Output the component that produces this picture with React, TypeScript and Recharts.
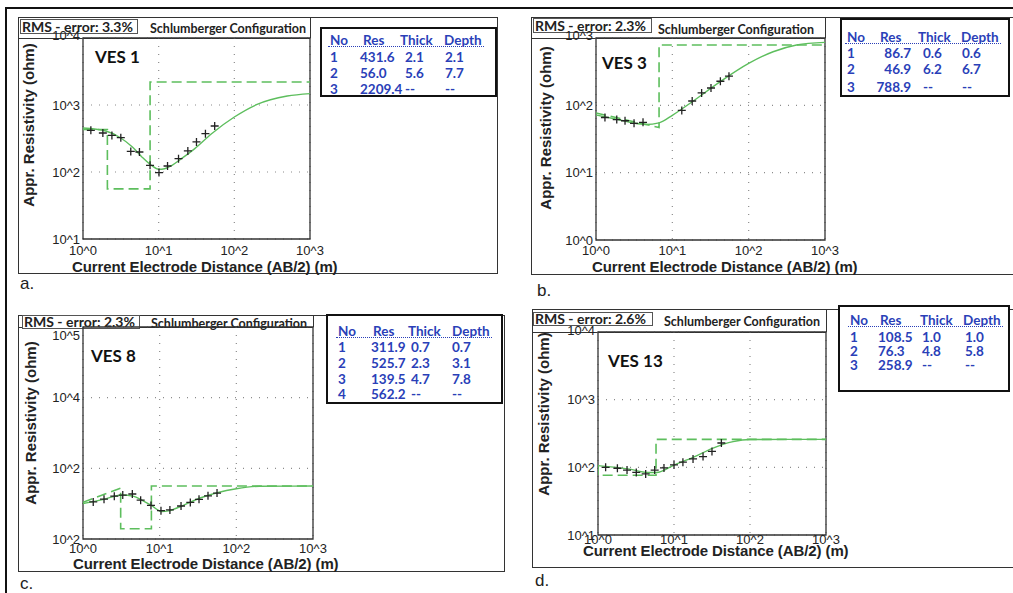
import React from "react";
import { CartesianGrid, ComposedChart, Line, ReferenceArea, Scatter, XAxis, YAxis } from "recharts";

const xTicks = [1, 10, 100, 1000];
const xTickLabels = ["10^0", "10^1", "10^2", "10^3"];

// VES 1
const ves1Res = [431.6, 56.0, 2209.4];
const ves1Thick = [2.1, 5.6];
const ves1Depth = [2.1, 7.7];
const ves1ObsX = [1.27, 1.83, 2.41, 3.16, 4.28, 5.57, 7.69, 10.1, 13.1, 18.3, 24.3, 31.6, 41.5, 55];
const ves1ObsY = [419, 382, 352, 325, 203, 199, 126, 98, 123, 158, 206, 281, 373, 486];
const ves1FitX = [1, 2, 3, 4.5, 6, 8, 10, 12, 15, 20, 30, 50, 100, 200, 500, 1000];
const ves1FitY = [454, 409, 333, 236, 168, 126, 110, 112, 126, 158, 223, 373, 662, 1020, 1360, 1480];
const ves1StepX = [1, 2.1, 2.1, 7.7, 7.7, 1000];
const ves1StepY = [431.6, 431.6, 56.0, 56.0, 2209.4, 2209.4];

// VES 3
const ves3Res = [86.7, 46.9, 788.9];
const ves3Thick = [0.6, 6.2];
const ves3Depth = [0.6, 6.7];
const ves3ObsX = [1.31, 1.87, 2.4, 3.15, 4.13, 13.3, 18.2, 24.2, 32.1, 42.6, 55.2];
const ves3ObsY = [66, 61.5, 59, 54, 56, 84, 116, 153, 181, 228, 271];
const ves3FitX = [1, 2, 3, 4.5, 6.7, 10, 18, 42, 100, 209, 424, 1000];
const ves3FitY = [72, 61, 55, 52, 55, 71, 112, 223, 419, 625, 787, 861];
const ves3StepX = [1, 6.7, 6.7, 1000];
const ves3StepY = [77, 46.9, 788.9, 788.9];

// VES 8
const ves8Res = [311.9, 525.7, 139.5, 562.2];
const ves8Thick = [0.7, 2.3, 4.7];
const ves8Depth = [0.7, 3.1, 7.8];
const ves8ObsX = [1.36, 1.88, 2.56, 3.3, 4.4, 5.65, 7.7, 10.4, 13.6, 19, 25.1, 32.6, 42.7, 56];
const ves8ObsY = [335, 366, 404, 419, 433, 354, 299, 252, 258, 293, 329, 364, 408, 446];
const ves8FitX = [1, 1.8, 3.2, 4.5, 6, 7.8, 10.6, 13, 18.4, 33, 100, 200, 1000];
const ves8FitY = [318, 360, 419, 405, 350, 299, 245, 250, 286, 377, 515, 557, 562];
const ves8StepX = [1, 3.1, 3.1, 7.8, 7.8, 1000];
const ves8StepY = [330, 525.7, 139.5, 139.5, 562.2, 562.2];

// VES 13
const ves13Res = [108.5, 76.3, 258.9];
const ves13Thick = [1.0, 4.8];
const ves13Depth = [1.0, 5.8];
const ves13ObsX = [1.26, 1.8, 2.41, 3.19, 4.24, 5.57, 7.38, 10, 13.1, 17.8, 24.1, 31.6, 42];
const ves13ObsY = [100, 97, 91, 84, 80, 91, 98, 109, 119, 133, 144, 172, 229];
const ves13FitX = [1, 2.6, 4.5, 5.9, 10, 17.8, 32, 60, 100, 1000];
const ves13FitY = [106, 94, 84, 84, 108, 140, 191, 240, 258, 259];
const ves13StepX = [1, 1, 5.8, 5.8, 1000];
const ves13StepY = [108.5, 76.3, 76.3, 258.9, 258.9];

const green = "#5dbe5d";
const blue = "#2a3fb8";
const dark = "#333";
const arial = "'Liberation Sans', Arial, sans-serif";
const calibri = "Lato, 'Open Sans', sans-serif";

type Panel = {
  name: string;
  rms: string;
  letter: string;
  plot: number[]; // L T R B
  frame: number[];
  yDomain: number[];
  yTicks: number[];
  yLabels: string[];
  topShift: number; // nudge of the top y label, as in the picture
  xTickGap: number;
  obsX: number[];
  obsY: number[];
  fitX: number[];
  fitY: number[];
  stepX: number[];
  stepY: number[];
  res: number[];
  thick: number[];
  depth: number[];
  rmsBox: number[];
  schCenter: number[];
  vesPos: number[];
  xTitle: number[];
  yTitle: number[];
  letterPos: number[];
  table: { box: number[]; headX: number[]; cellX: number[]; headY: number; rowY: number[]; resRight?: number };
};

const panels: Panel[] = [
  {
    name: "VES 1", rms: "RMS - error: 3.3%", letter: "a.",
    plot: [83, 38, 310, 239], frame: [18, 17, 498, 274],
    yDomain: [10, 10000], yTicks: [10, 100, 1000, 10000], yLabels: ["10^1", "10^2", "10^3", "10^4"], topShift: -3, xTickGap: 7,
    obsX: ves1ObsX, obsY: ves1ObsY, fitX: ves1FitX, fitY: ves1FitY, stepX: ves1StepX, stepY: ves1StepY,
    res: ves1Res, thick: ves1Thick, depth: ves1Depth,
    rmsBox: [20, 19, 138, 34], schCenter: [228, 28], vesPos: [95, 56], xTitle: [72, 266], yTitle: [28, 125], letterPos: [20, 284],
    table: { box: [320, 27, 497, 97], headX: [330, 363, 400, 444], cellX: [330, 360, 405, 445], headY: 40, rowY: [57, 73, 89] },
  },
  {
    name: "VES 3", rms: "RMS - error: 2.3%", letter: "b.",
    plot: [596, 38, 825, 240], frame: [531, 17, 1016, 275],
    yDomain: [1, 1000], yTicks: [1, 10, 100, 1000], yLabels: ["10^0", "10^1", "10^2", "10^3"], topShift: -3, xTickGap: 6,
    obsX: ves3ObsX, obsY: ves3ObsY, fitX: ves3FitX, fitY: ves3FitY, stepX: ves3StepX, stepY: ves3StepY,
    res: ves3Res, thick: ves3Thick, depth: ves3Depth,
    rmsBox: [533, 18, 652, 33], schCenter: [736, 29], vesPos: [602, 62], xTitle: [592, 266], yTitle: [545, 128], letterPos: [537, 291],
    table: { box: [840, 18, 1010, 97], headX: [847, 880, 918, 961], cellX: [847, 882, 923, 962], headY: 37, rowY: [53, 69, 87], resRight: 911 },
  },
  {
    name: "VES 8", rms: "RMS - error: 2.3%", letter: "c.",
    plot: [83, 327, 313, 539], frame: [18, 315, 505, 572],
    yDomain: [100, 100000], yTicks: [100, 1000, 10000, 100000], yLabels: ["10^2", "10^2", "10^4", "10^5"], topShift: 8, xTickGap: 5,
    obsX: ves8ObsX, obsY: ves8ObsY, fitX: ves8FitX, fitY: ves8FitY, stepX: ves8StepX, stepY: ves8StepY,
    res: ves8Res, thick: ves8Thick, depth: ves8Depth,
    rmsBox: [22, 315, 140, 329], schCenter: [229, 323], vesPos: [91, 355], xTitle: [73, 563], yTitle: [30, 423], letterPos: [20, 584],
    table: { box: [326, 314, 503, 404], headX: [338, 373, 408, 452], cellX: [338, 371, 411, 452], headY: 331, rowY: [347, 363, 379, 394] },
  },
  {
    name: "VES 13", rms: "RMS - error: 2.6%", letter: "d.",
    plot: [598, 332, 826, 535], frame: [532, 309, 1016, 568],
    yDomain: [10, 10000], yTicks: [10, 100, 1000, 10000], yLabels: ["10^1", "10^2", "10^3", "10^4"], topShift: -2, xTickGap: 0,
    obsX: ves13ObsX, obsY: ves13ObsY, fitX: ves13FitX, fitY: ves13FitY, stepX: ves13StepX, stepY: ves13StepY,
    res: ves13Res, thick: ves13Thick, depth: ves13Depth,
    rmsBox: [533, 312, 653, 326], schCenter: [742, 321], vesPos: [608, 360], xTitle: [583, 550], yTitle: [543, 414], letterPos: [535, 581],
    table: { box: [838, 305, 1010, 392], headX: [850, 880, 920, 963], cellX: [850, 878, 922, 965], headY: 320, rowY: [337, 351, 365] },
  },
];

const PlusMark = (props: any) => {
  const { cx, cy } = props;
  if (cx == null || cy == null) return null;
  return <path d={`M${cx - 4},${cy}H${cx + 4}M${cx},${cy - 4}V${cy + 4}`} stroke="#222" strokeWidth={1.3} fill="none" />;
};

const tickStyle = { fontSize: 13, fill: "#222", fontFamily: arial };

function VesChart({ p }: { p: Panel }) {
  const padL = 60, padT = 10, padR = 20, padB = 30;
  const w = p.plot[2] - p.plot[0] + padL + padR;
  const h = p.plot[3] - p.plot[1] + padT + padB;
  const fit = p.fitX.map((x, i) => ({ x, y: p.fitY[i] }));
  const obs = p.obsX.map((x, i) => ({ x, y: p.obsY[i] }));
  const step = p.stepX.map((x, i) => ({ x, y: p.stepY[i] }));
  const YTick = (props: any) => {
    const { x, y, index } = props;
    const shift = index === p.yTicks.length - 1 ? p.topShift : 0;
    return (
      <text x={x} y={y + shift} dy="0.355em" textAnchor="end" fontSize={13} fill="#222" fontFamily={arial}>
        {p.yLabels[index]}
      </text>
    );
  };
  return (
    <div style={{ position: "absolute", left: p.plot[0] - padL, top: p.plot[1] - padT }}>
      <ComposedChart width={w} height={h} margin={{ top: padT, right: padR, bottom: 0, left: 0 }}>
        <CartesianGrid stroke="#8c8c8c" strokeDasharray="1 7" strokeWidth={1.2} />
        <XAxis
          dataKey="x" type="number" scale="log" domain={[1, 1000]} ticks={xTicks} allowDataOverflow
          height={padB} axisLine={false} tickLine={false} tickSize={0} tickMargin={p.xTickGap} interval={0}
          tickFormatter={(_v: number, i: number) => xTickLabels[i]} tick={tickStyle}
        />
        <YAxis
          type="number" scale="log" domain={p.yDomain} ticks={p.yTicks} allowDataOverflow
          width={padL} axisLine={false} tickLine={false} tickSize={0} tickMargin={3} interval={0} tick={YTick}
        />
        <ReferenceArea x1={1} x2={1000} y1={p.yDomain[0]} y2={p.yDomain[1]} fill="none" stroke={dark} strokeWidth={1.3} ifOverflow="visible" />
        <Line data={step} dataKey="y" type="linear" stroke={green} strokeWidth={1.6} strokeDasharray="10 5" dot={false} isAnimationActive={false} />
        <Line data={fit} dataKey="y" type="monotone" stroke={green} strokeWidth={1.4} dot={false} isAnimationActive={false} />
        <Scatter data={obs} dataKey="y" shape={PlusMark} isAnimationActive={false} />
      </ComposedChart>
    </div>
  );
}

function LayerTable({ p }: { p: Panel }) {
  const t = p.table;
  const [bl, bt, br, bb] = t.box;
  const cell = (x: number, y: number, text: string, key: string, right?: number) => (
    <div
      key={key}
      style={{
        position: "absolute", top: y - 8, height: 16, lineHeight: "16px",
        left: right != null ? undefined : x, right: right != null ? 1013 - right : undefined,
        fontFamily: calibri, fontWeight: 700, fontSize: 13.5, color: blue, whiteSpace: "nowrap",
      }}
    >
      {text}
    </div>
  );
  const heads = ["No", "Res", "Thick", "Depth"];
  return (
    <>
      <div style={{ position: "absolute", left: bl, top: bt, width: br - bl, height: bb - bt, border: "2px solid #111", boxSizing: "border-box", background: "#fff" }} />
      {heads.map((hd, i) => cell(t.headX[i], t.headY, hd, `h${i}`))}
      <div style={{ position: "absolute", left: t.headX[0] - 2, top: t.headY + 6, width: t.headX[3] + 42 - t.headX[0], borderTop: `1.5px dotted ${blue}` }} />
      {p.res.map((r, i) => (
        <React.Fragment key={i}>
          {cell(t.cellX[0], t.rowY[i], String(i + 1), `n${i}`)}
          {cell(t.cellX[1], t.rowY[i], r.toFixed(1), `r${i}`, t.resRight)}
          {cell(t.cellX[2], t.rowY[i], i < p.thick.length ? p.thick[i].toFixed(1) : "--", `t${i}`)}
          {cell(t.cellX[3], t.rowY[i], i < p.depth.length ? p.depth[i].toFixed(1) : "--", `d${i}`)}
        </React.Fragment>
      ))}
    </>
  );
}

function PanelDecor({ p }: { p: Panel }) {
  const [fl, ft, fr, fb] = p.frame;
  const [, pt, pr] = p.plot;
  const [rl, rt, rr, rb] = p.rmsBox;
  return (
    <>
      <div style={{ position: "absolute", left: fl, top: ft, width: fr - fl, height: fb - ft, border: `1.5px solid ${dark}`, boxSizing: "border-box" }} />
      <div style={{ position: "absolute", left: fl, top: pt, width: pr - fl, borderTop: `1.3px solid ${dark}` }} />
      <div style={{ position: "absolute", left: pr, top: ft, height: pt - ft, borderLeft: `1.3px solid ${dark}` }} />
      <div
        style={{
          position: "absolute", left: rl, top: rt, width: rr - rl, height: rb - rt, border: "1px solid #555", boxSizing: "border-box",
          fontFamily: calibri, fontWeight: 700, fontSize: 14, lineHeight: `${rb - rt - 2}px`, color: "#222", paddingLeft: 1, whiteSpace: "nowrap", background: "#fff",
        }}
      >
        {p.rms}
      </div>
      <div style={{ position: "absolute", left: p.schCenter[0], top: p.schCenter[1], transform: "translate(-50%,-50%)", fontFamily: calibri, fontWeight: 700, fontSize: 12.5, color: "#222", whiteSpace: "nowrap" }}>
        Schlumberger Configuration
      </div>
      <div style={{ position: "absolute", left: p.vesPos[0], top: p.vesPos[1], transform: "translateY(-50%)", fontFamily: calibri, fontWeight: 700, fontSize: 17, color: "#111", whiteSpace: "nowrap" }}>
        {p.name}
      </div>
      <div style={{ position: "absolute", left: p.xTitle[0], top: p.xTitle[1], transform: "translateY(-50%)", fontFamily: arial, fontWeight: 700, fontSize: 15, color: "#222", whiteSpace: "nowrap", letterSpacing: -0.1 }}>
        Current Electrode Distance (AB/2) (m)
      </div>
      <div style={{ position: "absolute", left: p.yTitle[0], top: p.yTitle[1], transform: "translate(-50%,-50%) rotate(-90deg)", fontFamily: arial, fontWeight: 700, fontSize: 15, color: "#222", whiteSpace: "nowrap" }}>
        Appr. Resistivity (ohm)
      </div>
      <div style={{ position: "absolute", left: p.letterPos[0], top: p.letterPos[1], transform: "translateY(-50%)", fontFamily: arial, fontSize: 17, color: "#222" }}>
        {p.letter}
      </div>
      <LayerTable p={p} />
    </>
  );
}

export default function App() {
  return (
    <div style={{ position: "absolute", left: 0, top: 0, width: 1013, height: 593, background: "#fff", overflow: "hidden" }}>
      <div style={{ position: "absolute", left: 5, top: 7, width: 1020, height: 600, borderLeft: "2.5px solid #111", borderTop: "2.5px solid #111" }} />
      {panels.map((p) => (
        <PanelDecor key={`d${p.name}`} p={p} />
      ))}
      {panels.map((p) => (
        <VesChart key={p.name} p={p} />
      ))}
    </div>
  );
}
